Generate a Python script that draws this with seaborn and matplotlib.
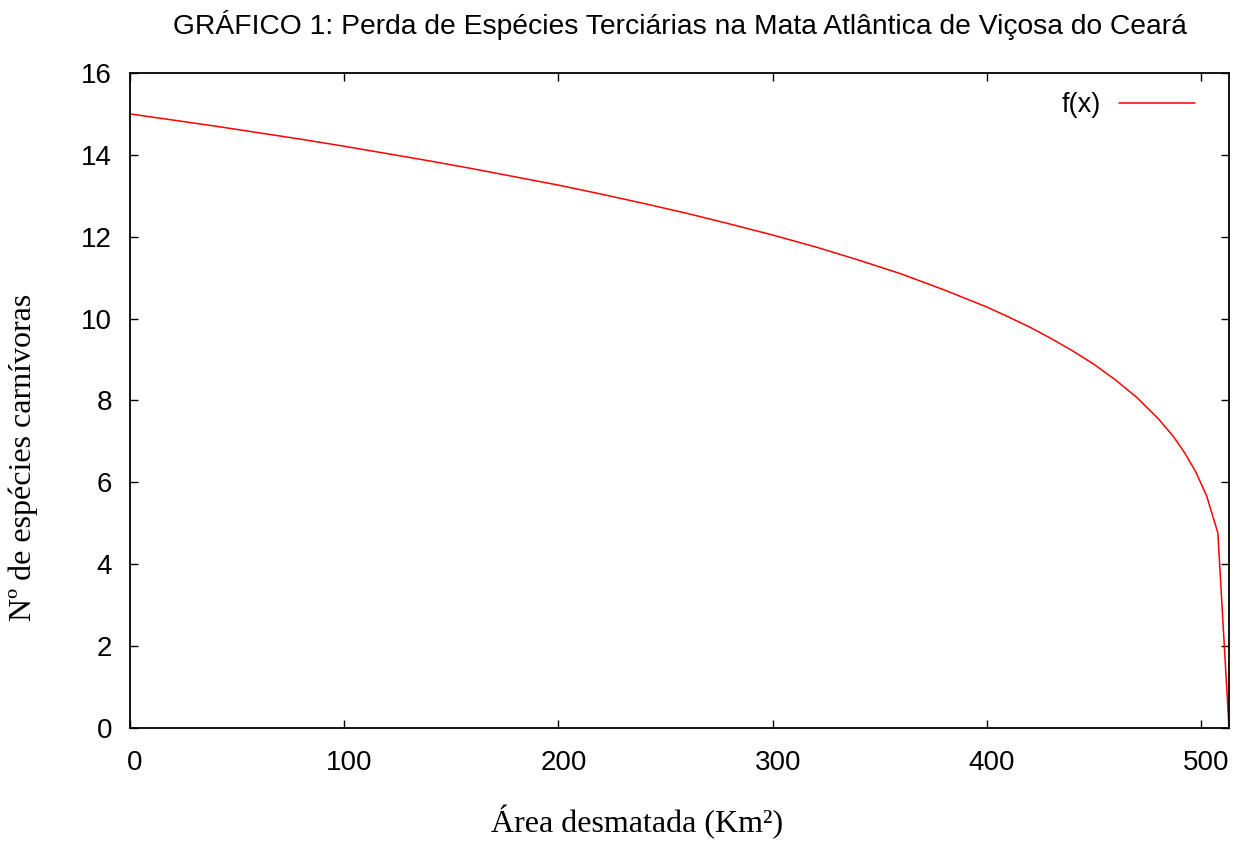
import matplotlib
matplotlib.use("Agg")
import matplotlib.pyplot as plt
import matplotlib.transforms as mtransforms
import seaborn as sns
import pandas as pd

# Data
area = [0, 20, 40, 60, 80, 100, 120, 140, 160, 180, 200, 220, 240, 260, 280,
        300, 320, 340, 360, 380, 400, 410, 420, 430, 440, 450, 460, 470, 480,
        487, 492.3, 497.5, 502.6, 507.8, 513]
species = [15.00, 14.85, 14.70, 14.54, 14.38, 14.21, 14.03, 13.85, 13.66, 13.46,
           13.26, 13.04, 12.81, 12.57, 12.31, 12.04, 11.75, 11.43, 11.09, 10.70,
           10.28, 10.04, 9.79, 9.51, 9.21, 8.88, 8.50, 8.07, 7.55, 7.12, 6.72,
           6.25, 5.66, 4.76, 0.0]
x_ticks = [0, 100, 200, 300, 400, 500]
y_ticks = [0, 2, 4, 6, 8, 10, 12, 14, 16]

title = "GRÁFICO 1: Perda de Espécies Terciárias na Mata Atlântica de Viçosa do Ceará"
xlabel = "Área desmatada (Km²)"
ylabel = "Nº de espécies carnívoras"
series_name = "f(x)"

df = pd.DataFrame({"x": area, "y": species, "s": series_name})

sns.set_theme(style="ticks")
plt.rcParams["font.family"] = ["Liberation Sans", "DejaVu Sans"]
for k in ["text.color", "axes.labelcolor", "xtick.color", "ytick.color", "axes.edgecolor"]:
    plt.rcParams[k] = "black"

W, H = 1236, 848
fig = plt.figure(figsize=(W / 100, H / 100), dpi=100)
ax = fig.add_axes([130 / W, 1 - 727.7 / H, 1099 / W, (727.7 - 73) / H])

sns.lineplot(data=df, x="x", y="y", hue="s", palette=["#ff0000"], sort=False,
             estimator=None, linewidth=1.1, ax=ax)

ax.set_xlim(0, 513)
ax.set_ylim(0, 16)
ax.set_xticks(x_ticks)
ax.set_yticks(y_ticks)
ax.tick_params(axis="both", direction="in", length=5.5, width=1.0, colors="black",
               labelsize=20, top=True, right=True)
ax.tick_params(axis="x", pad=16)
ax.tick_params(axis="y", pad=13)
shift = mtransforms.ScaledTranslation(5 / 100, 0, fig.dpi_scale_trans)
for lab in ax.get_xticklabels():
    lab.set_transform(lab.get_transform() + shift)
for sp in ax.spines.values():
    sp.set_visible(True)
    sp.set_color("black")
    sp.set_linewidth(1.3)

ax.set_xlabel("")
ax.set_ylabel("")
serif = ["Liberation Serif", "DejaVu Serif"]
fig.text(637 / W, 1 - 832 / H, xlabel, family=serif, fontsize=23,
         ha="center", va="baseline")
fig.text(23 / W, 1 - 457 / H, ylabel, family=serif, fontsize=23,
         rotation=90, ha="center", va="center")
ax.set_title(title, fontsize=20.3, pad=28)

leg = ax.legend(loc="upper right", frameon=False, markerfirst=False, fontsize=19.5,
                handlelength=2.8, handletextpad=0.65, borderaxespad=0.5,
                bbox_to_anchor=(1 - 10 / 1099, 1 + 5 / 654.7))
for line in leg.get_lines():
    line.set_linewidth(1.1)

fig.savefig("out.png", dpi=100, facecolor="white")
